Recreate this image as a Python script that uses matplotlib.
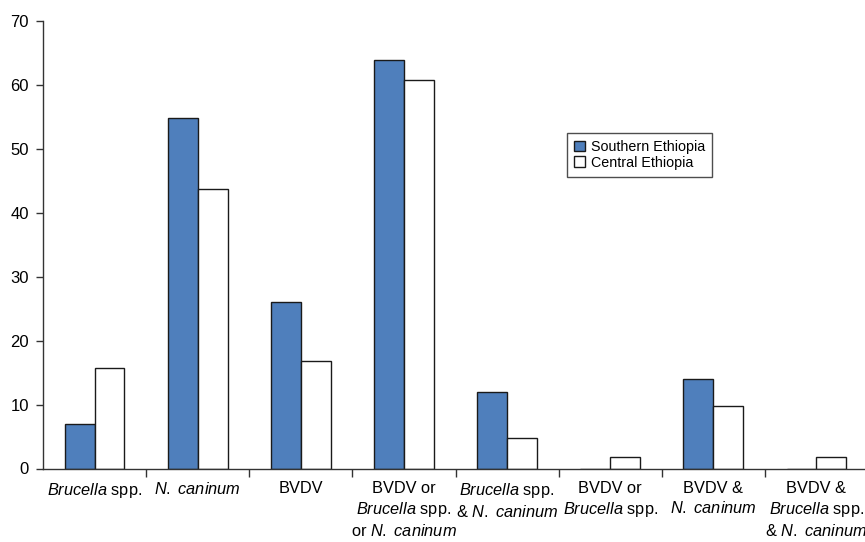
import matplotlib
matplotlib.use("Agg")
import matplotlib.pyplot as plt
import numpy as np

categories = [
    r"$\mathit{Brucella}$ spp.",
    r"$\mathit{N.}$ $\mathit{caninum}$",
    "BVDV",
    "BVDV or\n" + r"$\mathit{Brucella}$ spp." + "\nor " + r"$\mathit{N.}$ $\mathit{caninum}$",
    r"$\mathit{Brucella}$ spp." + "\n& " + r"$\mathit{N.}$ $\mathit{caninum}$",
    "BVDV or\n" + r"$\mathit{Brucella}$ spp.",
    "BVDV &\n" + r"$\mathit{N.}$ $\mathit{caninum}$",
    "BVDV &\n" + r"$\mathit{Brucella}$ spp." + "\n& " + r"$\mathit{N.}$ $\mathit{caninum}$",
]
southern = [7.0, 54.8, 26.0, 63.9, 12.0, 0, 14.0, 0]
central = [15.7, 43.7, 16.8, 60.7, 4.8, 1.8, 9.8, 1.85]
series_names = ["Southern Ethiopia", "Central Ethiopia"]
yticks = [0, 10, 20, 30, 40, 50, 60, 70]

plt.rcParams["font.family"] = ["Liberation Sans", "DejaVu Sans"]
plt.rcParams["mathtext.fontset"] = "custom"
plt.rcParams["mathtext.rm"] = "Liberation Sans"
plt.rcParams["mathtext.it"] = "Liberation Sans:italic"

fig = plt.figure(figsize=(8.65, 5.42), dpi=100)
ax = fig.add_axes([43/865, 1 - 468.5/542, 825/865, (468.5 - 21)/542])

x = np.arange(len(categories))
w = 0.29
ax.bar(x + 0.5 - w/2, southern, width=w, color="#4F7FBC", edgecolor="#1a1a1a",
       linewidth=1.0, label=series_names[0], zorder=2)
ax.bar(x + 0.5 + w/2, central, width=w, color="white", edgecolor="#1a1a1a",
       linewidth=1.0, label=series_names[1], zorder=2)

ax.set_xlim(0, len(categories))
ax.set_ylim(0, 70)
ax.set_yticks(yticks)
ax.set_xticks(x + 0.5)
ax.set_xticklabels(categories, fontsize=11.8, linespacing=1.3, va="top")
ax.set_xticks(np.arange(1, len(categories)), minor=True)
ax.tick_params(axis="x", which="major", length=0, pad=9)
ax.tick_params(axis="x", which="minor", length=6, width=1, color="#333333", direction="out")
ax.tick_params(axis="y", length=5, width=1, color="#333333", labelsize=12, pad=5)

for s in ["top", "right"]:
    ax.spines[s].set_visible(False)
for s in ["left", "bottom"]:
    ax.spines[s].set_color("#333333")
    ax.spines[s].set_linewidth(1.0)
    ax.spines[s].set_zorder(3)

leg = ax.legend(loc="upper left", bbox_to_anchor=(567/865, 1 - 133/542),
                bbox_transform=fig.transFigure, borderaxespad=0, fancybox=False,
                frameon=True, fontsize=10.3, handlelength=0.75, handleheight=0.75,
                handletextpad=0.4, labelspacing=0.1, borderpad=0.5)
leg.get_frame().set_edgecolor("#222222")
leg.get_frame().set_linewidth(1.0)

fig.savefig("out.png", dpi=100)
